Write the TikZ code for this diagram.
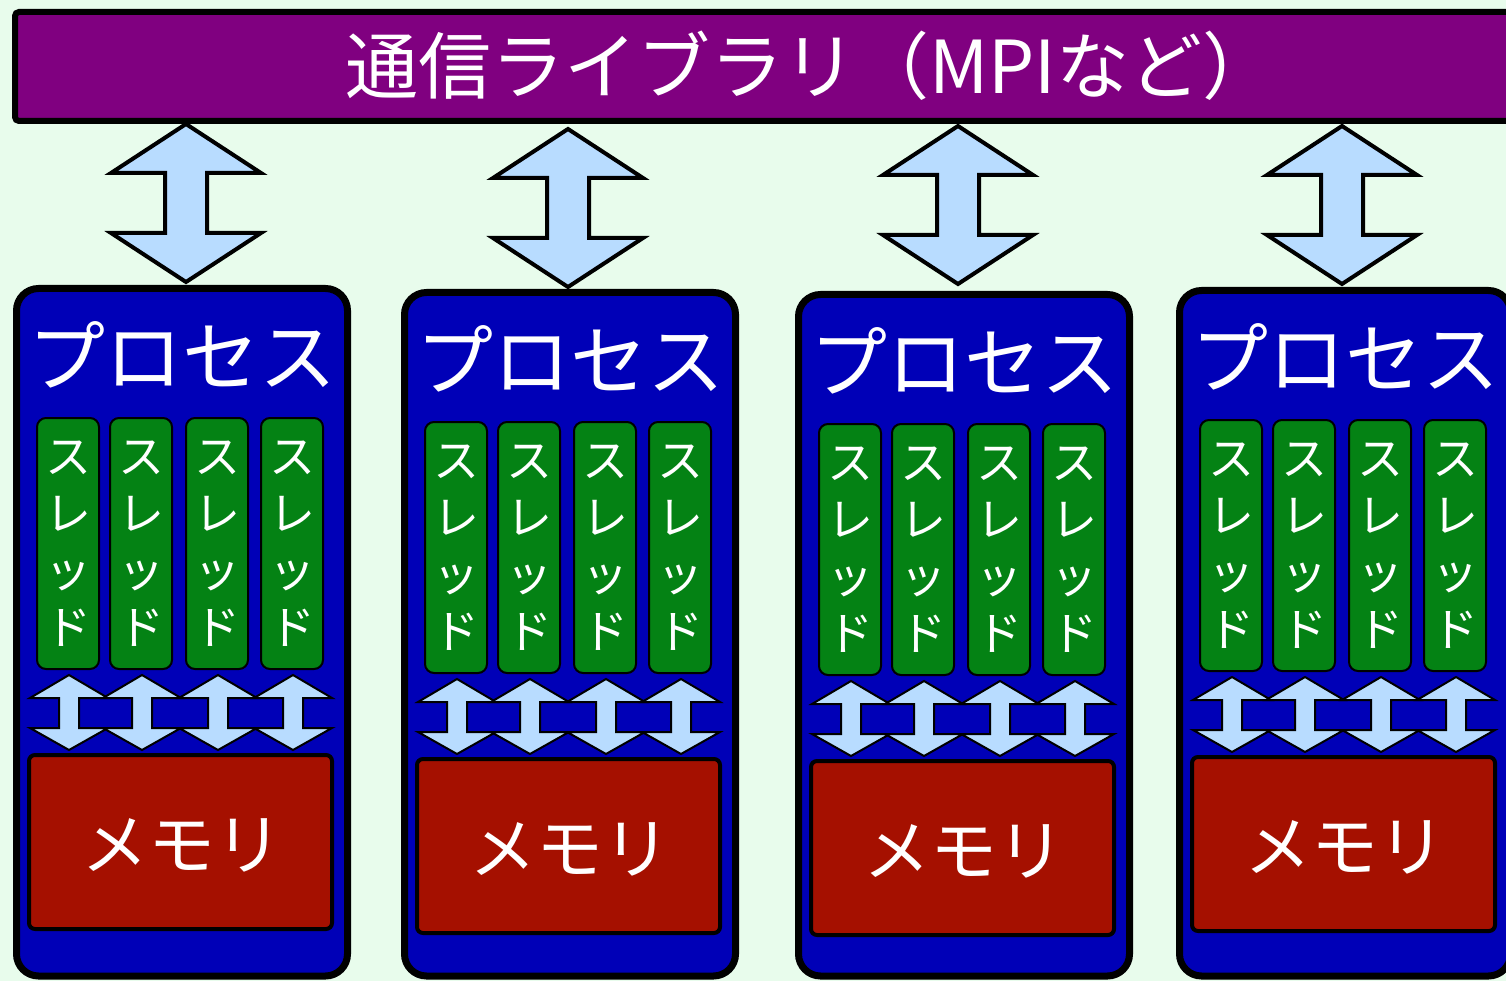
\documentclass[tikz,border=0pt]{standalone}
\usepackage{fontspec}
\newfontfamily\cjk{Noto Sans CJK JP}
\usetikzlibrary{calc}
\definecolor{bgmint}{RGB}{232,252,236}
\definecolor{barpurple}{RGB}{128,0,128}
\definecolor{procblue}{RGB}{0,0,183}
\definecolor{thgreen}{RGB}{4,130,20}
\definecolor{memred}{RGB}{165,16,0}
\definecolor{arrowblue}{RGB}{184,220,255}
\tikzset{
  box/.style={inner sep=0pt,outer sep=0pt,anchor=north west},
  bar/.style={box,draw=black,line width=6pt,fill=barpurple,rounded corners=4pt,minimum width=1560pt,minimum height=109pt},
  procbox/.style={box,draw=black,line width=7pt,fill=procblue,rounded corners=22pt,minimum width=331pt},
  threadbox/.style={box,draw=black,line width=2pt,fill=thgreen,rounded corners=9pt,minimum width=62pt,minimum height=251pt},
  membox/.style={box,draw=black,line width=4pt,fill=memred,rounded corners=6pt,minimum width=303pt,minimum height=174pt},
  bigarrow/.style={draw=black,line width=4pt,fill=arrowblue,line join=miter},
  smallarrow/.style={draw=black,line width=2pt,fill=arrowblue,line join=miter},
  titlelabel/.style={text=white,inner sep=0pt,font=\cjk\fontsize{73}{80}\selectfont},
  proclabel/.style={text=white,inner sep=0pt,font=\cjk\fontsize{77}{80}\selectfont},
  threadlabel/.style={text=white,align=center,inner sep=0pt,font=\cjk\fontsize{46}{57}\selectfont},
  memlabel/.style={text=white,inner sep=0pt,font=\cjk\fontsize{67}{70}\selectfont},
}
% #1 index, #2 outer left, #3 outer top, #4 big arrow dx, #5 big arrow top offset
\newcommand\drawproc[5]{%
  \coordinate (pc#1) at (#2+169,#3);
  \draw[bigarrow] ($(bar.south -| pc#1)+(#4,#5)$) -- ++(75,49) -- ++(-54,0) -- ++(0,60) -- ++(54,0) -- ++(-75,49) -- ++(-75,-49) -- ++(54,0) -- ++(0,-60) -- ++(-54,0) -- cycle;
  \node[procbox,minimum height={(972.5-#3)*1pt}] (p#1) at (#2+3.5,#3+3.5) {};
  \node[proclabel] (pl#1) at ($(p#1.north)+(0,66)$) {プロセス};
  \foreach \k/\dx in {1/24,2/97,3/173,4/248}{%
    \node[threadbox] (t#1\k) at (#2+\dx,#3+133) {};
    \node[threadlabel] (tl#1\k) at (t#1\k.center) {ス\\レ\\ッ\\ド};
  }
  \node[membox] (m#1) at (#2+16,#3+470) {};
  \node[memlabel] (ml#1) at ($(m#1.center)+(1.5,3)$) {メモリ};
  \foreach \k in {1,2,3,4}{%
    \draw[smallarrow] ($(t#1\k.south)+(1,6)$) -- ++(39,23) -- ++(-29,0) -- ++(0,30) -- ++(29,0) -- ++(-39,22) -- ++(-39,-22) -- ++(29,0) -- ++(0,-30) -- ++(-29,0) -- cycle;
  }
}
\begin{document}
\begin{tikzpicture}[x=1pt,y=-1pt]
  \useasboundingbox (0,0) rectangle (1506,981);
  \fill[bgmint] (0,0) rectangle (1506,981);
  \node[bar] (bar) at (15,12) {};
  \node[titlelabel,anchor=west] (title) at (345,66) {通信ライブラリ（MPIなど）};
  \drawproc{1}{13}{285}{4}{3}
  \drawproc{2}{401}{289}{-2}{8}
  \drawproc{3}{795}{291}{-6}{5}
  \drawproc{4}{1176}{287}{-3}{5}
\end{tikzpicture}
\end{document}
